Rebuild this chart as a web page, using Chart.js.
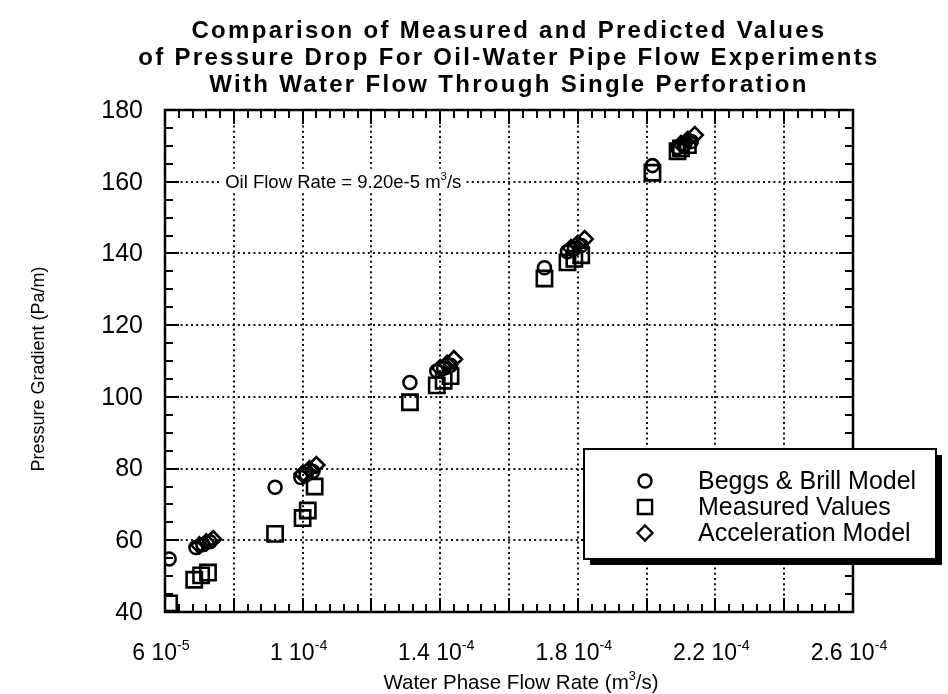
<!DOCTYPE html>
<html><head><meta charset="utf-8">
<script src="https://cdn.jsdelivr.net/npm/chart.js@4.4.0/dist/chart.umd.min.js"></script>
<style>html,body{margin:0;padding:0;background:#fff}#wrap{width:948px;height:694px;position:relative}</style>
</head><body><div id="wrap"><canvas id="c" width="948" height="694"></canvas></div>
<script>
const titleLines = ['Comparison of Measured and Predicted Values','of Pressure Drop For Oil-Water Pipe Flow Experiments','With Water Flow Through Single Perforation'];
const xAxisTitle = [['Water Phase Flow Rate (m', false], ['3', true], ['/s)', false]];
const yAxisTitle = 'Pressure Gradient (Pa/m)';
const annotationParts = [['Oil Flow Rate = 9.20e-5 m', false], ['3', true], ['/s', false]];
const seriesNames = ['Beggs & Brill Model', 'Measured Values', 'Acceleration Model'];
const xTickValues = [6e-5, 1e-4, 1.4e-4, 1.8e-4, 2.2e-4, 2.6e-4];
const xTickMantissa = ['6', '1', '1.4', '1.8', '2.2', '2.6'];
const xTickExponent = ['-5', '-4', '-4', '-4', '-4', '-4'];
const yTickValues = [40, 60, 80, 100, 120, 140, 160, 180];
const annotationY = 160;
const annotationX = 7.75e-5;

// Beggs & Brill Model (circles)
const beggsX = [6.12e-5, 6.9e-5, 7.1e-5, 7.3e-5, 9.2e-5, 9.95e-5, 1.01e-4, 1.03e-4, 1.312e-4, 1.39e-4, 1.41e-4, 1.43e-4, 1.703e-4, 1.77e-4, 1.79e-4, 1.81e-4, 2.017e-4, 2.09e-4, 2.11e-4, 2.13e-4];
const beggsY = [54.8, 58.0, 58.8, 59.6, 74.8, 77.5, 78.3, 79.2, 104.0, 107.2, 108.0, 108.8, 136.0, 140.5, 141.3, 142.2, 164.5, 169.5, 170.3, 171.2];
// Measured Values (squares)
const measX = [6.12e-5, 6.85e-5, 7.05e-5, 7.25e-5, 9.2e-5, 1.0e-4, 1.015e-4, 1.035e-4, 1.312e-4, 1.39e-4, 1.41e-4, 1.43e-4, 1.703e-4, 1.77e-4, 1.79e-4, 1.81e-4, 2.017e-4, 2.09e-4, 2.10e-4, 2.12e-4];
const measY = [42.4, 49.0, 50.2, 51.0, 61.8, 66.2, 68.3, 75.0, 98.5, 103.2, 104.5, 105.8, 133.0, 137.5, 138.5, 139.5, 162.5, 168.5, 169.3, 170.2];
// Acceleration Model (diamonds)
const accX = [7.0e-5, 7.2e-5, 7.4e-5, 1.0e-4, 1.02e-4, 1.04e-4, 1.40e-4, 1.42e-4, 1.44e-4, 1.78e-4, 1.80e-4, 1.82e-4, 2.10e-4, 2.12e-4, 2.14e-4];
const accY = [58.6, 59.4, 60.3, 78.5, 79.8, 81.0, 108.0, 109.2, 110.5, 141.5, 142.7, 144.0, 170.5, 171.7, 173.0];

const FONT = '"Liberation Sans", Arial, Helvetica, sans-serif';
const toPts = (xs, ys) => xs.map((x, i) => ({x: x, y: ys[i]}));

function richWidth(ctx, parts, size) {
  let w = 0;
  parts.forEach(p => { ctx.font = (p[1] ? size * 0.62 : size) + 'px ' + FONT; w += ctx.measureText(p[0]).width; });
  return w;
}
function drawRich(ctx, parts, x, y, size, align) {
  const total = richWidth(ctx, parts, size);
  let cx = align === 'center' ? x - total / 2 : (align === 'right' ? x - total : x);
  ctx.textAlign = 'left'; ctx.textBaseline = 'alphabetic';
  parts.forEach(p => {
    ctx.font = (p[1] ? size * 0.62 : size) + 'px ' + FONT;
    ctx.fillText(p[0], cx, p[1] ? y - size * 0.42 : y);
    cx += ctx.measureText(p[0]).width;
  });
  return total;
}
function drawMarker(ctx, style, x, y, r) {
  ctx.beginPath();
  if (style === 'circle') ctx.arc(x, y, r, 0, Math.PI * 2);
  else if (style === 'rect') { const s = r * Math.SQRT1_2; ctx.rect(x - s, y - s, 2 * s, 2 * s); }
  else { ctx.moveTo(x, y - r); ctx.lineTo(x + r, y); ctx.lineTo(x, y + r); ctx.lineTo(x - r, y); ctx.closePath(); }
  ctx.stroke();
}

const framePlugin = {
  id: 'frame',
  beforeDatasetsDraw(chart) {
    const ctx = chart.ctx, a = chart.chartArea, xs = chart.scales.x, ys = chart.scales.y;
    ctx.save();
    ctx.strokeStyle = '#111'; ctx.lineWidth = 2; ctx.setLineDash([2, 3.2]);
    for (let i = 1; i < 10; i++) {
      const px = Math.round(xs.getPixelForValue(xs.min + i * (xs.max - xs.min) / 10));
      ctx.beginPath(); ctx.moveTo(px, a.top); ctx.lineTo(px, a.bottom); ctx.stroke();
    }
    for (let i = 1; i < yTickValues.length - 1; i++) {
      const py = Math.round(ys.getPixelForValue(yTickValues[i]));
      ctx.beginPath(); ctx.moveTo(a.left, py); ctx.lineTo(a.right, py); ctx.stroke();
    }
    ctx.setLineDash([]);
    const size = 18.5;
    const ax = xs.getPixelForValue(annotationX), ay = ys.getPixelForValue(annotationY);
    const w = richWidth(ctx, annotationParts, size);
    ctx.fillStyle = '#fff';
    ctx.fillRect(ax - 4, ay - 13, w + 8, 24);
    ctx.fillStyle = '#000';
    drawRich(ctx, annotationParts, ax, ay + 6, size, 'left');
    ctx.restore();
  },
  afterDatasetsDraw(chart) {
    const ctx = chart.ctx, a = chart.chartArea, xs = chart.scales.x, ys = chart.scales.y;
    ctx.save();
    ctx.strokeStyle = '#000'; ctx.fillStyle = '#000';
    ctx.lineWidth = 2.5;
    ctx.strokeRect(a.left, a.top, a.right - a.left, a.bottom - a.top);
    ctx.lineWidth = 2;
    for (let i = 0; i <= 50; i++) {
      const px = Math.round(xs.getPixelForValue(xs.min + i * (xs.max - xs.min) / 50));
      const len = i % 5 === 0 ? 14 : 8;
      ctx.beginPath();
      ctx.moveTo(px, a.bottom); ctx.lineTo(px, a.bottom - len);
      ctx.moveTo(px, a.top); ctx.lineTo(px, a.top + len);
      ctx.stroke();
    }
    for (let i = 0; i <= 28; i++) {
      const py = Math.round(ys.getPixelForValue(ys.min + i * (ys.max - ys.min) / 28));
      const len = i % 4 === 0 ? 14 : 8;
      ctx.beginPath();
      ctx.moveTo(a.left, py); ctx.lineTo(a.left + len, py);
      ctx.moveTo(a.right, py); ctx.lineTo(a.right - len, py);
      ctx.stroke();
    }
    ctx.font = '25px ' + FONT; ctx.textAlign = 'right'; ctx.textBaseline = 'middle';
    yTickValues.forEach(v => ctx.fillText(String(v), a.left - 22, ys.getPixelForValue(v) + 1));
    xTickValues.forEach((v, i) => {
      drawRich(ctx, [[xTickMantissa[i] + ' 10', false], [xTickExponent[i], true]], xs.getPixelForValue(v) - 4, 660, 23, 'center');
    });
    ctx.fillStyle = '#000';
    drawRich(ctx, xAxisTitle, (a.left + a.right) / 2 + 12, 689, 20.5, 'center');
    ctx.save();
    ctx.translate(44, (a.top + a.bottom) / 2 + 8);
    ctx.rotate(-Math.PI / 2);
    ctx.font = '18px ' + FONT; ctx.textAlign = 'center'; ctx.textBaseline = 'alphabetic';
    ctx.fillText(yAxisTitle, 0, 0);
    ctx.restore();
    ctx.font = 'bold 24px ' + FONT; ctx.textAlign = 'center'; ctx.textBaseline = 'alphabetic';
    if ('letterSpacing' in ctx) ctx.letterSpacing = '2.3px';
    const cx = (a.left + a.right) / 2;
    titleLines.forEach((t, i) => ctx.fillText(t, cx, 38 + i * 27));
    if ('letterSpacing' in ctx) ctx.letterSpacing = '0px';
    const lx = 584, ly = 449, lw = 352, lh = 110;
    ctx.fillStyle = '#000';
    ctx.fillRect(lx + 6, ly + 6, lw, lh);
    ctx.fillStyle = '#fff';
    ctx.fillRect(lx, ly, lw, lh);
    ctx.lineWidth = 2; ctx.strokeStyle = '#000';
    ctx.strokeRect(lx, ly, lw, lh);
    ctx.fillStyle = '#000';
    chart.data.datasets.forEach((ds, i) => {
      const ry = 481 + i * 26;
      ctx.lineWidth = 2.4;
      drawMarker(ctx, ds.pointStyle, 645, ry, ds.pointStyle === 'rect' ? 10 : (ds.pointStyle === 'circle' ? 6.5 : 7.5));
      ctx.font = '25px ' + FONT; ctx.textAlign = 'left'; ctx.textBaseline = 'middle';
      ctx.fillText(ds.label, 698, ry + 1);
    });
    ctx.restore();
  }
};

new Chart(document.getElementById('c'), {
  type: 'scatter',
  data: {
    datasets: [
      {label: seriesNames[0], data: toPts(beggsX, beggsY), pointStyle: 'circle', pointRadius: 6.5, borderColor: '#000', backgroundColor: 'rgba(0,0,0,0)', borderWidth: 2.6},
      {label: seriesNames[1], data: toPts(measX, measY), pointStyle: 'rect', pointRadius: 10.8, borderColor: '#000', backgroundColor: 'rgba(0,0,0,0)', borderWidth: 2.6},
      {label: seriesNames[2], data: toPts(accX, accY), pointStyle: 'rectRot', pointRadius: 8, borderColor: '#000', backgroundColor: 'rgba(0,0,0,0)', borderWidth: 2.6}
    ]
  },
  options: {
    responsive: false, animation: false, devicePixelRatio: 1,
    layout: {padding: {left: 0, right: 95, top: 110, bottom: 0}},
    plugins: {legend: {display: false}, tooltip: {enabled: false}, title: {display: false}},
    scales: {
      x: {type: 'linear', min: 6e-5, max: 2.6e-4, ticks: {display: false}, grid: {display: false}, border: {display: false},
          afterFit: s => { s.height = 82; }},
      y: {type: 'linear', min: 40, max: 180, ticks: {display: false}, grid: {display: false}, border: {display: false},
          afterFit: s => { s.width = 165; }}
    }
  },
  plugins: [framePlugin]
});
</script>
</body></html>
